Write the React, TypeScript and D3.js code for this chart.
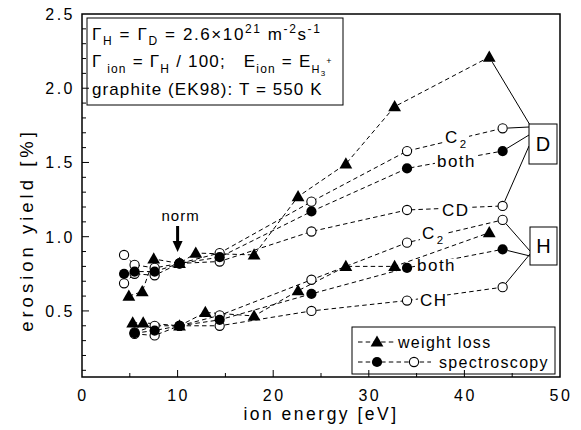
import React from "react";
import * as d3 from "d3";

// ---------- data ----------
const xTickValues = [0, 10, 20, 30, 40, 50];
const xTickLabels = ["0", "10", "20", "30", "40", "50"];
const yTickValues = [0.5, 1.0, 1.5, 2.0, 2.5];
const yTickLabels = ["0.5", "1.0", "1.5", "2.0", "2.5"];

// Deuterium: weight loss (triangles)
const dWeightE = [4.9, 6.3, 7.5, 10.2, 11.9, 18.0, 22.6, 27.6, 32.7, 42.6];
const dWeightY = [0.6, 0.63, 0.85, 0.82, 0.89, 0.877, 1.27, 1.49, 1.876, 2.21];
// Deuterium: spectroscopy
const dSpecE = [4.4, 5.5, 7.6, 10.2, 14.4, 24.0, 34.0, 44.0];
const dC2Y = [0.877, 0.81, 0.79, 0.82, 0.89, 1.236, 1.577, 1.73];
const dBothY = [0.75, 0.765, 0.765, 0.82, 0.862, 1.17, 1.46, 1.577];
const dCDY = [0.686, 0.75, 0.74, 0.82, 0.833, 1.035, 1.18, 1.207];

// Hydrogen: weight loss (triangles)
const hWeightE = [5.3, 6.4, 10.2, 12.9, 18.0, 22.6, 27.6, 32.7, 42.6];
const hWeightY = [0.42, 0.42, 0.4, 0.49, 0.466, 0.636, 0.8, 0.8, 1.027];
// Hydrogen: spectroscopy
const hSpecE = [5.5, 7.6, 10.2, 14.4, 24.0, 34.0, 44.0];
const hC2Y = [0.355, 0.4, 0.4, 0.47, 0.71, 0.96, 1.113];
const hBothY = [0.35, 0.368, 0.4, 0.44, 0.615, 0.79, 0.915];
const hCHY = [0.345, 0.335, 0.4, 0.4, 0.5, 0.57, 0.66];

const normE = 10.0;

// ---------- helpers ----------
const FONT = "'Liberation Sans', Arial, Helvetica, sans-serif";
const NB = "\u00a0";

type Pt = [number, number];
const zip = (xs: number[], ys: number[]): Pt[] => xs.map((v, i) => [v, ys[i]]);

function triPath(cx: number, cy: number, s = 1) {
  return `M${cx},${cy - 6.6 * s}L${cx + 6.4 * s},${cy + 4.6 * s}L${cx - 6.4 * s},${cy + 4.6 * s}Z`;
}

export default function App() {
  const x = d3.scaleLinear().domain([0, 50]).range([82, 560]);
  const y = d3.scaleLinear().domain([0.055, 2.5]).range([377, 14]);
  const line = d3
    .line<Pt>()
    .x((d) => x(d[0]))
    .y((d) => y(d[1]));

  const dWeight = zip(dWeightE, dWeightY);
  const dC2 = zip(dSpecE, dC2Y);
  const dBoth = zip(dSpecE, dBothY);
  const dCD = zip(dSpecE, dCDY);
  const hWeight = zip(hWeightE, hWeightY);
  const hC2 = zip(hSpecE, hC2Y);
  const hBoth = zip(hSpecE, hBothY);
  const hCH = zip(hSpecE, hCHY);

  const dash = "4.5,3.2";
  const allLines = [dC2, dBoth, dCD, hC2, hBoth, hCH, dWeight, hWeight];

  const yMinor = d3.range(0.1, 2.45, 0.1).map((v) => +v.toFixed(2));
  const xMinor = d3.range(5, 50, 5);

  // boxes (annotation positions)
  const dBox = { x: 529, y: 124, w: 28, h: 40 };
  const hBox = { x: 530, y: 227, w: 27, h: 38 };

  const last = (s: Pt[]) => s[s.length - 1];
  const leaders: { from: Pt; to: [number, number]; off: number }[] = [
    { from: last(dWeight), to: [dBox.x + 1, dBox.y + 1], off: 6 },
    { from: last(dC2), to: [dBox.x, dBox.y + 3], off: 5 },
    { from: last(dBoth), to: [dBox.x, dBox.y + 11], off: 5 },
    { from: last(dCD), to: [dBox.x, dBox.y + 22], off: 5 },
    { from: last(hC2), to: [hBox.x, hBox.y + 24], off: 5 },
    { from: last(hBoth), to: [hBox.x, hBox.y + 29], off: 5 },
    { from: last(hCH), to: [hBox.x, hBox.y + 27], off: 5 },
  ];

  const seriesLabels = [
    { e: 37.97, v: 1.632, t: "C", sub: "2", w: 26 },
    { e: 37.13, v: 1.472, t: "both", sub: "", w: 40 },
    { e: 37.66, v: 1.14, t: "CD", sub: "", w: 29 },
    { e: 35.56, v: 0.985, t: "C", sub: "2", w: 26 },
    { e: 35.04, v: 0.769, t: "both", sub: "", w: 40 },
    { e: 35.36, v: 0.534, t: "CH", sub: "", w: 29 },
  ];

  const openC = (s: Pt[], key: string) =>
    s.map((d, i) => (
      <circle key={key + i} cx={x(d[0])} cy={y(d[1])} r={4.6} fill="#fff" stroke="#000" strokeWidth={1.1} />
    ));
  const fillC = (s: Pt[], key: string) =>
    s.map((d, i) => <circle key={key + i} cx={x(d[0])} cy={y(d[1])} r={5.1} fill="#000" />);
  const tris = (s: Pt[], key: string) =>
    s.map((d, i) => <path key={key + i} d={triPath(x(d[0]), y(d[1]))} fill="#000" />);

  const ax = x(normE);

  return (
    <svg
      width={581}
      height={430}
      style={{ position: "absolute", left: 0, top: 0, background: "#fff" }}
      fontFamily={FONT}
    >
      <rect x={0} y={0} width={581} height={430} fill="#fff" />

      {/* dashed series lines */}
      {allLines.map((s, i) => (
        <path key={"l" + i} d={line(s) || ""} fill="none" stroke="#000" strokeWidth={1} strokeDasharray={dash} />
      ))}

      {/* leader lines to D/H boxes */}
      {leaders.map((l, i) => {
        const x0 = x(l.from[0]);
        const y0 = y(l.from[1]);
        const dx = l.to[0] - x0;
        const dy = l.to[1] - y0;
        const len = Math.hypot(dx, dy);
        return (
          <line
            key={"ld" + i}
            x1={x0 + (dx / len) * l.off}
            y1={y0 + (dy / len) * l.off}
            x2={l.to[0]}
            y2={l.to[1]}
            stroke="#000"
            strokeWidth={1}
          />
        );
      })}

      {/* series labels: white backgrounds first, then texts */}
      {seriesLabels.map((l, i) => (
        <rect key={"slr" + i} x={x(l.e) - 2} y={y(l.v) - 12} width={l.w} height={14} fill="#fff" />
      ))}
      {seriesLabels.map((l, i) => (
        <text key={"sl" + i} x={x(l.e)} y={y(l.v)} fontSize={17} letterSpacing={1.5}>
          {l.t}
          {l.sub ? (
            <tspan fontSize={11.5} dy={5} dx={1}>
              {l.sub}
            </tspan>
          ) : null}
        </text>
      ))}

      {/* markers */}
      {openC(dCD, "dcd")}
      {openC(hC2.slice(0, 1), "hc2a")}
      {openC(hCH.slice(0, 1), "hcha")}
      {tris(dWeight, "dw")}
      {tris(hWeight, "hw")}
      {openC(dC2, "dc2")}
      {openC(hC2.slice(1), "hc2")}
      {openC(hCH.slice(1), "hch")}
      {fillC(dBoth, "db")}
      {fillC(hBoth, "hb")}

      {/* norm arrow */}
      <text x={ax + 3} y={221} fontSize={15} letterSpacing={1} textAnchor="middle">
        norm
      </text>
      <line x1={ax} y1={226} x2={ax} y2={243} stroke="#000" strokeWidth={3} />
      <path d={`M${ax - 5},${241}L${ax + 5},${241}L${ax},${252}Z`} fill="#000" />

      {/* D / H boxes */}
      <rect x={dBox.x} y={dBox.y} width={dBox.w} height={dBox.h} fill="#fff" stroke="#000" strokeWidth={1} />
      <text x={dBox.x + dBox.w / 2} y={dBox.y + dBox.h / 2 + 7} fontSize={20} textAnchor="middle">
        D
      </text>
      <rect x={hBox.x} y={hBox.y} width={hBox.w} height={hBox.h} fill="#fff" stroke="#000" strokeWidth={1} />
      <text x={hBox.x + hBox.w / 2} y={hBox.y + hBox.h / 2 + 7} fontSize={20} textAnchor="middle">
        H
      </text>

      {/* annotation box */}
      <rect x={87} y={18} width={256} height={87} fill="#fff" stroke="#000" strokeWidth={1} />
      <text x={92} y={40} fontSize={17} letterSpacing={1.6}>
        Γ<tspan fontSize={12} dy={5}>H</tspan>
        <tspan dy={-5}>{NB}={NB}Γ</tspan>
        <tspan fontSize={12} dy={5}>D</tspan>
        <tspan dy={-5}>{NB}={NB}2.6×10</tspan>
        <tspan fontSize={12} dy={-7}>21</tspan>
        <tspan dy={7}>{NB}m</tspan>
        <tspan fontSize={12} dy={-7}>-2</tspan>
        <tspan dy={7}>s</tspan>
        <tspan fontSize={12} dy={-7}>-1</tspan>
      </text>
      <text x={92} y={67} fontSize={17} letterSpacing={1.2}>
        Γ<tspan fontSize={12} dy={6}>{NB}ion</tspan>
        <tspan dy={-6}>{NB}={NB}Γ</tspan>
        <tspan fontSize={12} dy={6}>H</tspan>
        <tspan dy={-6}>{NB}/{NB}100;{NB}{NB}{NB}E</tspan>
        <tspan fontSize={12} dy={6}>ion</tspan>
        <tspan dy={-6}>{NB}={NB}E</tspan>
        <tspan fontSize={11} dy={6}>H</tspan>
        <tspan fontSize={8} dy={3}>3</tspan>
        <tspan fontSize={9} dy={-12}>+</tspan>
      </text>
      <text x={92} y={95} fontSize={17} letterSpacing={1.1}>
        graphite (EK98): T = 550 K
      </text>

      {/* legend */}
      <rect x={352} y={327} width={203} height={47} fill="#fff" stroke="#000" strokeWidth={1} />
      <line x1={358} y1={342} x2={395} y2={342} stroke="#000" strokeWidth={1} strokeDasharray={dash} />
      <path d={triPath(377, 342)} fill="#000" />
      <text x={398} y={348} fontSize={16} letterSpacing={1.3}>
        weight loss
      </text>
      <line x1={358} y1={362} x2={431} y2={362} stroke="#000" strokeWidth={1} strokeDasharray={dash} />
      <circle cx={377} cy={362} r={5.1} fill="#000" />
      <circle cx={414} cy={362} r={4.6} fill="#fff" stroke="#000" strokeWidth={1.1} />
      <text x={439} y={368} fontSize={16} letterSpacing={1.3}>
        spectroscopy
      </text>

      {/* axes frame */}
      <rect x={82} y={14} width={478} height={363} fill="none" stroke="#000" strokeWidth={1.5} />
      {yMinor.map((v) => {
        const major = Math.abs(v * 2 - Math.round(v * 2)) < 1e-6;
        return <line key={"yt" + v} x1={82} x2={82 + (major ? 7 : 4)} y1={y(v)} y2={y(v)} stroke="#000" strokeWidth={1} />;
      })}
      {xMinor.map((v) => {
        const major = v % 10 === 0;
        return <line key={"xt" + v} x1={x(v)} x2={x(v)} y1={377} y2={377 - (major ? 7 : 4)} stroke="#000" strokeWidth={1} />;
      })}
      {yTickValues.map((v, i) => (
        <text key={"yl" + i} x={75} y={y(v) + 6} fontSize={16} letterSpacing={2.5} textAnchor="end">
          {yTickLabels[i]}
        </text>
      ))}
      {xTickValues.map((v, i) => (
        <text key={"xl" + i} x={x(v) + 1} y={401} fontSize={16} letterSpacing={2.5} textAnchor="middle">
          {xTickLabels[i]}
        </text>
      ))}
      <text x={321} y={420} fontSize={17.5} letterSpacing={2.5} textAnchor="middle">
        ion energy [eV]
      </text>
      <text
        transform={`translate(33,230) rotate(-90)`}
        fontSize={18.5}
        letterSpacing={4}
        textAnchor="middle"
      >
        erosion yield [%]
      </text>
    </svg>
  );
}
